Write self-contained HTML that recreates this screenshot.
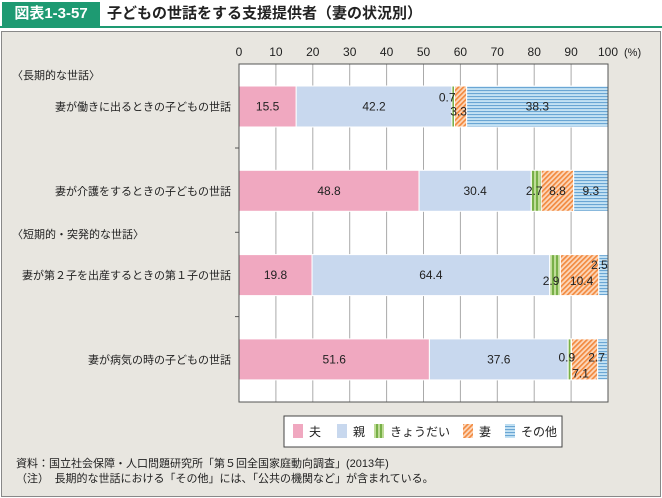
<!DOCTYPE html>
<html><head><meta charset="utf-8">
<style>
body{margin:0;width:662px;height:498px;background:#fff;font-family:"Liberation Sans","Noto Sans CJK JP",sans-serif;overflow:hidden;position:relative}
#hdr{position:absolute;left:0;top:0;width:662px;height:28px;background:#fff}
#badge{position:absolute;left:2px;top:2px;width:98px;height:24px;background:#1e9a72;color:#fff;font-weight:bold;font-size:15px;line-height:24px;text-align:center}
#title{position:absolute;left:107px;top:2px;font-weight:bold;font-size:15px;line-height:24px;color:#222}
#hline{position:absolute;left:0;top:26px;width:662px;height:2px;background:#1e9a72}
#frame{position:absolute;left:1px;top:31px;width:658px;height:464px;background:#e8e6e0;border:1px solid #888}
.t{position:absolute;font-size:11px;color:#222;white-space:nowrap}
</style></head><body>
<div id="hdr">
<div id="badge">図表1-3-57</div>
<div id="title">子どもの世話をする支援提供者（妻の状況別）</div>
<div id="hline"></div>
</div>
<div id="frame"></div>
<svg id="chart" width="662" height="498" style="position:absolute;left:0;top:0">
<defs>
<pattern id="pG" width="4" height="4" patternUnits="userSpaceOnUse"><rect width="4" height="4" fill="#c0dc98"/><rect width="2" height="4" fill="#78b048"/></pattern>
<pattern id="pO" width="3.5" height="3.5" patternUnits="userSpaceOnUse" patternTransform="rotate(45)"><rect width="3.5" height="3.5" fill="#fcd8bc"/><rect width="1.7" height="3.5" fill="#f28a40"/></pattern>
<pattern id="pB" width="4" height="3" patternUnits="userSpaceOnUse"><rect width="4" height="3" fill="#c4e2f4"/><rect width="4" height="1.1" fill="#6aa6d4"/></pattern>
</defs>
</svg>
<div class="t" style="left:12px;top:67px">〈長期的な世話〉</div>
<div class="t" style="left:12px;top:226px">〈短期的・突発的な世話〉</div>
<div class="t" style="left:16px;top:455px">資料：国立社会保障・人口問題研究所「第５回全国家庭動向調査」(2013年)</div>
<div class="t" style="left:16px;top:470px">（注）　長期的な世話における「その他」には、「公共の機関など」が含まれている。</div>
<script>
const categories=["妻が働きに出るときの子どもの世話","妻が介護をするときの子どもの世話","妻が第２子を出産するときの第１子の世話","妻が病気の時の子どもの世話"];
const seriesNames=["夫","親","きょうだい","妻","その他"];
const husband=[15.5,48.8,19.8,51.6];
const parent=[42.2,30.4,64.4,37.6];
const sibling=[0.7,2.7,2.9,0.9];
const wife=[3.3,8.8,10.4,7.1];
const other=[38.3,9.3,2.5,2.7];
const ticks=[0,10,20,30,40,50,60,70,80,90,100];

const series=[husband,parent,sibling,wife,other];
const fills=["#f0a8c0","#c8d8ee","url(#pG)","url(#pO)","url(#pB)"];
const svg=document.getElementById('chart');
const NS="http://www.w3.org/2000/svg";
const X0=239,X1=608,Y0=64,Y1=402;
const x=v=>X0+(X1-X0)*v/100;
const rowY=i=>86+i*84.3;
const BH=41;
function mk(tag,a){const e=document.createElementNS(NS,tag);for(const k in a)e.setAttribute(k,a[k]);svg.appendChild(e);return e;}
const bg=mk('rect',{x:X0,y:Y0,width:X1-X0,height:Y1-Y0,fill:'#fff'});


ticks.forEach(t=>{
  if(t>0&&t<100){const g=mk('line',{x1:x(t),x2:x(t),y1:Y0,y2:Y1,stroke:'#aaa','stroke-width':1});
  
  }
  const l=mk('text',{x:x(t),y:56,'text-anchor':'middle','font-size':12,fill:'#222'});l.textContent=t;
  
  
});
const pc=mk('text',{x:624,y:56,'font-size':11,fill:'#222'});pc.textContent='(%)';


const adj={"0-2":[-6,-9],"0-3":[-2,5],"1-2":[-2,0],"2-2":[-4,6],"2-3":[2,6],"2-4":[-4,-10],"3-2":[-3,-2],"3-3":[-4,14],"3-4":[-6,-2]};
categories.forEach((c,i)=>{
  const y=rowY(i);let acc=0;
  series.forEach((s,j)=>{
    const v=s[i];
    const r=mk('rect',{x:x(acc),y:y,width:x(acc+v)-x(acc),height:BH,fill:fills[j],stroke:'#fff','stroke-width':1});
    
    
    acc+=v;
  });
  const cl=mk('text',{x:231,y:y+BH/2+4,'text-anchor':'end','font-size':11,fill:'#222'});cl.textContent=c;
  
  
  if(i<categories.length-1){const tk=mk('line',{x1:X0-4,x2:X0,y1:y+BH+21,y2:y+BH+21,stroke:'#555'});
  
  }
});
categories.forEach((c,i)=>{
  const y=rowY(i);let acc=0;
  series.forEach((s,j)=>{
    const v=s[i];
    const a=adj[i+'-'+j]||[0,0];
    const cx=(x(acc)+x(acc+v))/2+a[0];
    const tt=mk('text',{x:cx,y:y+BH/2+4+a[1],'text-anchor':'middle','font-size':12,fill:'#222'});
    tt.textContent=v.toFixed(1);
    
    
    acc+=v;
  });
});
const ax=mk('rect',{x:X0,y:Y0,width:X1-X0,height:Y1-Y0,fill:'none',stroke:'#555','stroke-width':1});


const lg=mk('rect',{x:284,y:416,width:278,height:31,fill:'#fff',stroke:'#444'});


const lx=[293,337,374,463,505];
seriesNames.forEach((n,j)=>{
  const sw=mk('rect',{x:lx[j],y:424,width:10,height:14,fill:fills[j]});
  
  
  const lt=mk('text',{x:lx[j]+16,y:436,'font-size':12,fill:'#222'});lt.textContent=n;
  
  
});
</script>
</body></html>
